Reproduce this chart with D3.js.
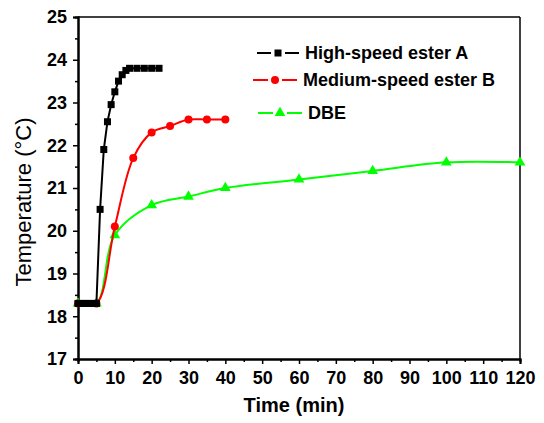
<!doctype html>
<html>
<head>
    <meta charset="UTF-8">
    <title>Temperature vs time</title>
    <script src="https://d3js.org/d3.v7.min.js"></script>
    <style>
        body { margin: 0; background: #fff; }
        text { font-family: "Liberation Sans", Arial, sans-serif; }
    </style>
</head>
<body>
    <svg class="chart" width="544" height="423"></svg>
    <script>
        // data
        var timeA = [0, 1, 2, 3, 4, 5, 6, 7, 8, 9, 10, 11, 12, 13, 14, 16, 18, 20, 22];
        var tempA = [18.3, 18.3, 18.3, 18.3, 18.3, 18.3, 20.5, 21.9, 22.55, 22.95, 23.25, 23.5, 23.65, 23.75, 23.8, 23.8, 23.8, 23.8, 23.8];
        var timeB = [0, 5, 10, 15, 20, 25, 30, 35, 40];
        var tempB = [18.3, 18.3, 20.1, 21.7, 22.3, 22.45, 22.6, 22.6, 22.6];
        var timeC = [0, 5, 10, 20, 30, 40, 60, 80, 100, 120];
        var tempC = [18.3, 18.3, 19.9, 20.6, 20.8, 21.0, 21.2, 21.4, 21.6, 21.6];
        var seriesNames = ["High-speed ester A", "Medium-speed ester B", "DBE"];
        var xTicks = [0, 10, 20, 30, 40, 50, 60, 70, 80, 90, 100, 110, 120];
        var yTicks = [17, 18, 19, 20, 21, 22, 23, 24, 25];

        var svg = d3.select(".chart");
        var pLeft = 78, pRight = 520, pTop = 17, pBottom = 359;

        var x = d3.scaleLinear().domain([0, 120]).range([pLeft, pRight]);
        var y = d3.scaleLinear().domain([17, 25]).range([pBottom, pTop]);

        function pairs(t, v) {
            return t.map(function (d, i) { return [d, v[i]]; });
        }

        // frame
        svg.append("line").attr("x1", pLeft).attr("x2", pRight).attr("y1", pTop).attr("y2", pTop)
            .attr("stroke", "black").attr("stroke-width", 1.5);
        svg.append("line").attr("x1", pRight).attr("x2", pRight).attr("y1", pTop).attr("y2", pBottom)
            .attr("stroke", "black").attr("stroke-width", 1.5);

        // x axis
        var xAxis = d3.axisBottom(x).tickValues(xTicks).tickSize(5).tickPadding(7).tickFormat(d3.format("d"));
        svg.append("g").attr("transform", "translate(0," + pBottom + ")").call(xAxis);
        var xMinor = d3.axisBottom(x).tickValues(d3.range(5, 120, 10)).tickSize(3).tickFormat("");
        svg.append("g").attr("transform", "translate(0," + pBottom + ")").call(xMinor);

        // y axis
        var yAxis = d3.axisLeft(y).tickValues(yTicks).tickSize(5).tickPadding(6).tickFormat(d3.format("d"));
        svg.append("g").attr("transform", "translate(" + pLeft + ",0)").call(yAxis);
        var yMinor = d3.axisLeft(y).tickValues(d3.range(17.5, 25, 1)).tickSize(3).tickFormat("");
        svg.append("g").attr("transform", "translate(" + pLeft + ",0)").call(yMinor);

        svg.selectAll(".domain").attr("stroke-width", 2).attr("stroke", "black");
        svg.selectAll(".tick line").attr("stroke-width", 1.5).attr("stroke", "black");
        svg.selectAll(".tick text").attr("font-size", 18).attr("font-weight", "bold")
            .attr("font-family", "Liberation Sans, Arial, sans-serif").attr("fill", "black");

        // axis titles
        svg.append("text").attr("x", 294).attr("y", 412).attr("text-anchor", "middle")
            .attr("font-size", 20).attr("font-weight", "bold").text("Time (min)");
        svg.append("text").attr("transform", "translate(31,202) rotate(-90)").attr("text-anchor", "middle")
            .attr("font-size", 22).text("Temperature (°C)");

        var smooth = d3.line().x(function (d) { return x(d[0]); }).y(function (d) { return y(d[1]); })
            .curve(d3.curveCatmullRom);
        var straight = d3.line().x(function (d) { return x(d[0]); }).y(function (d) { return y(d[1]); });

        var green = "#00ff00", red = "#ff0000";
        var dataA = pairs(timeA, tempA), dataB = pairs(timeB, tempB), dataC = pairs(timeC, tempC);
        var tri = d3.symbol().type(d3.symbolTriangle).size(50);

        // DBE
        svg.append("path").datum(dataC).attr("d", smooth).attr("fill", "none")
            .attr("stroke", green).attr("stroke-width", 2);
        svg.selectAll(".ptC").data(dataC).enter().append("path")
            .attr("transform", function (d) { return "translate(" + x(d[0]) + "," + y(d[1]) + ")"; })
            .attr("d", tri).attr("fill", green);

        // Medium-speed ester B
        svg.append("path").datum(dataB).attr("d", smooth).attr("fill", "none")
            .attr("stroke", red).attr("stroke-width", 2);
        svg.selectAll(".ptB").data(dataB).enter().append("circle")
            .attr("cx", function (d) { return x(d[0]); }).attr("cy", function (d) { return y(d[1]); })
            .attr("r", 4).attr("fill", red);

        // High-speed ester A
        svg.append("path").datum(dataA).attr("d", straight).attr("fill", "none")
            .attr("stroke", "black").attr("stroke-width", 2);
        svg.selectAll(".ptA").data(dataA).enter().append("rect")
            .attr("x", function (d) { return x(d[0]) - 3.5; }).attr("y", function (d) { return y(d[1]) - 3.5; })
            .attr("width", 7).attr("height", 7).attr("fill", "black");

        // legend
        var legend = [
            { name: seriesNames[0], color: "black", x1: 257, x2: 299, y: 53, mark: "rect" },
            { name: seriesNames[1], color: red, x1: 253, x2: 297, y: 80, mark: "circle" },
            { name: seriesNames[2], color: green, x1: 258, x2: 302, y: 113, mark: "tri" }
        ];
        legend.forEach(function (l) {
            var mid = (l.x1 + l.x2) / 2;
            svg.append("line").attr("x1", l.x1).attr("x2", mid - 7).attr("y1", l.y).attr("y2", l.y)
                .attr("stroke", l.color).attr("stroke-width", 2);
            svg.append("line").attr("x1", mid + 7).attr("x2", l.x2).attr("y1", l.y).attr("y2", l.y)
                .attr("stroke", l.color).attr("stroke-width", 2);
            if (l.mark === "rect") {
                svg.append("rect").attr("x", mid - 3.5).attr("y", l.y - 3.5).attr("width", 7).attr("height", 7)
                    .attr("fill", l.color);
            } else if (l.mark === "circle") {
                svg.append("circle").attr("cx", mid).attr("cy", l.y).attr("r", 4).attr("fill", l.color);
            } else {
                svg.append("path").attr("transform", "translate(" + mid + "," + l.y + ")").attr("d", tri)
                    .attr("fill", l.color);
            }
            svg.append("text").attr("x", l.x2 + 6).attr("y", l.y + 6).attr("font-size", 18)
                .attr("font-weight", "bold").text(l.name);
        });
    </script>
</body>
</html>
